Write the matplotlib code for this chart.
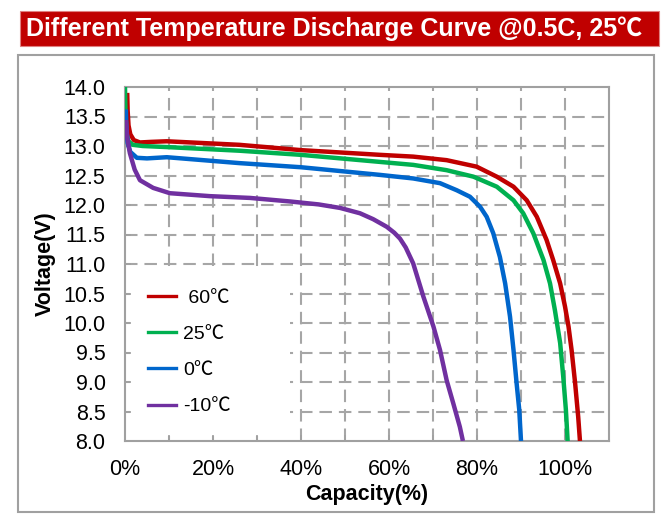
import matplotlib
matplotlib.use("Agg")
import matplotlib.pyplot as plt
from matplotlib.patches import Rectangle
from matplotlib.lines import Line2D

plt.rcParams['font.family'] = ['Liberation Sans', 'Noto Sans CJK SC', 'DejaVu Sans']
plt.rcParams['lines.scale_dashes'] = False

title = "Different Temperature Discharge Curve @0.5C, 25\u2103"
x_label = "Capacity(%)"
y_label = "Voltage(V)"

labels = [" 60\u2103", "25\u2103", "0\u2103", "-10\u2103"]
colors = ["#C00000", "#00B050", "#0066CC", "#7030A0"]

red_x = [0.5, 0.6, 0.8, 1.2, 2.0, 3.4, 6.0, 9.5, 15, 26, 40, 58, 65.5, 73.1, 79.9, 84.5, 88.3,
         91.3, 93.6, 95.8, 97.3, 98.9, 100.0, 100.8, 101.5, 102.3, 103.0, 103.4]
red_y = [13.9, 13.6, 13.35, 13.2, 13.1, 13.06, 13.07, 13.08, 13.06, 13.02, 12.93, 12.85, 12.82, 12.76,
         12.65, 12.48, 12.31, 12.08, 11.80, 11.41, 11.07, 10.67, 10.28, 9.94, 9.54, 8.98, 8.41, 8.0]

green_x = [0.0, 0.1, 0.3, 0.8, 1.8, 4, 10, 26, 40, 58, 65.5, 73.1, 79.2, 84.5, 88.3, 90.5,
           92.8, 95.1, 96.6, 97.7, 98.9, 99.6, 100.2, 100.6]
green_y = [14.0, 13.6, 13.22, 13.08, 13.02, 13.0, 12.98, 12.92, 12.85, 12.73, 12.68, 12.59,
           12.48, 12.31, 12.08, 11.86, 11.52, 11.07, 10.67, 10.22, 9.66, 9.09, 8.53, 8.0]

blue_x = [0.2, 0.3, 0.6, 1.2, 2.7, 5, 9.5, 26, 40, 58, 65.5, 71.6, 75.4, 78.4, 80.7, 82.2,
          83.7, 85.2, 86.4, 87.5, 88.3, 89.0, 89.6, 90.0]
blue_y = [13.62, 13.3, 13.05, 12.9, 12.8, 12.79, 12.81, 12.71, 12.64, 12.51, 12.45, 12.37,
          12.25, 12.14, 11.97, 11.80, 11.52, 11.12, 10.67, 10.11, 9.54, 8.98, 8.53, 8.0]

purple_x = [0.2, 0.5, 1.1, 2.2, 3.4, 6.4, 10.2, 19.3, 28.4, 37.5, 44.0, 48.9, 53.4, 56.4, 59.5,
            61.2, 62.5, 63.8, 65.5, 67.8, 70.1, 71.6, 73.1, 74.6, 76.1, 76.8]
purple_y = [13.44, 13.15, 12.88, 12.6, 12.42, 12.29, 12.2, 12.15, 12.12, 12.06, 12.01, 11.95, 11.86,
            11.76, 11.63, 11.53, 11.43, 11.28, 11.01, 10.45, 9.94, 9.54, 9.03, 8.64, 8.24, 8.0]

series_x = [red_x, green_x, blue_x, purple_x]
series_y = [red_y, green_y, blue_y, purple_y]

x_ticks = [0, 20, 40, 60, 80, 100]
x_tick_labels = ["0%", "20%", "40%", "60%", "80%", "100%"]
x_grid = [10, 20, 30, 40, 50, 60, 70, 80, 90, 100]
y_ticks = [8.0, 8.5, 9.0, 9.5, 10.0, 10.5, 11.0, 11.5, 12.0, 12.5, 13.0, 13.5, 14.0]
y_grid = [8.5, 9.0, 9.5, 10.0, 10.5, 11.0, 11.5, 12.0, 12.5, 13.0, 13.5]

W, H = 664, 520
fig = plt.figure(figsize=(W / 100, H / 100), dpi=100)
fig.patch.set_facecolor("white")

# outer frame
fig.patches.append(Rectangle((18 / W, 1 - 512 / H), (654 - 18) / W, (512 - 55) / H,
                             transform=fig.transFigure, fill=False,
                             edgecolor="#A0A0A0", linewidth=1.5, zorder=0))
# title bar
fig.patches.append(Rectangle((20 / W, 1 - 46 / H), (659 - 20) / W, (46 - 11) / H,
                             transform=fig.transFigure, facecolor="#C00000",
                             edgecolor="#E08080", linewidth=0.8, zorder=1))
fig.text(334 / W, 1 - 28.5 / H, title, color="white", fontsize=18, fontweight="bold",
         ha="center", va="center", zorder=2)

ax = fig.add_axes([125 / W, 1 - 441 / H, (609 - 125) / W, (441 - 87) / H])
ax.set_xlim(0, 110)
ax.set_ylim(8, 14)

grid_kw = dict(color="#A6A6A6", linewidth=1.5, linestyle=(0, (9, 5)), zorder=0.5)
for gx in x_grid:
    ax.axvline(gx, **grid_kw)
for gy in y_grid:
    ax.axhline(gy, **grid_kw)

ax.set_xticks(x_grid, minor=True)
ax.set_xticks(x_ticks)
ax.set_xticklabels(x_tick_labels)
ax.set_yticks(y_ticks)
ax.set_yticklabels([f"{v:.1f}" for v in y_ticks])

ax.tick_params(axis="both", which="both", direction="in", length=4, width=1.2, color="#A0A0A0")
ax.tick_params(axis="x", labelsize=15.5, pad=13)
ax.tick_params(axis="y", labelsize=15.5, pad=14)

for s in ax.spines.values():
    s.set_color("#A0A0A0")
    s.set_linewidth(1.5)

# white legend area
ax.add_patch(Rectangle((0.01, 0.014), 0.33, 0.48, transform=ax.transAxes,
                       facecolor="white", edgecolor="none", zorder=1))

for xs, ys, c, lab in zip(series_x, series_y, colors, labels):
    ax.plot(xs, ys, color=c, linewidth=3.2, label=lab, zorder=3,
            solid_capstyle="butt", solid_joinstyle="round")

handles = [Line2D([], [], color=c, linewidth=2.4) for c in colors]
leg = ax.legend(handles, labels, loc="upper left", bbox_to_anchor=(0.0465, 0.428),
                frameon=False, fontsize=14, handlelength=1.45, handletextpad=0.4,
                labelspacing=0.95, borderpad=0, borderaxespad=0)
leg.set_zorder(4)

ax.set_xlabel(x_label, fontsize=15.5, fontweight="bold")
ax.set_ylabel(y_label, fontsize=15.5, fontweight="bold")
ax.xaxis.set_label_coords(0.5, -(484 - 441) / 354)
ax.yaxis.set_label_coords(-(125 - 56) / 484, 0.5)

fig.savefig("out.png", dpi=100, facecolor="white")
